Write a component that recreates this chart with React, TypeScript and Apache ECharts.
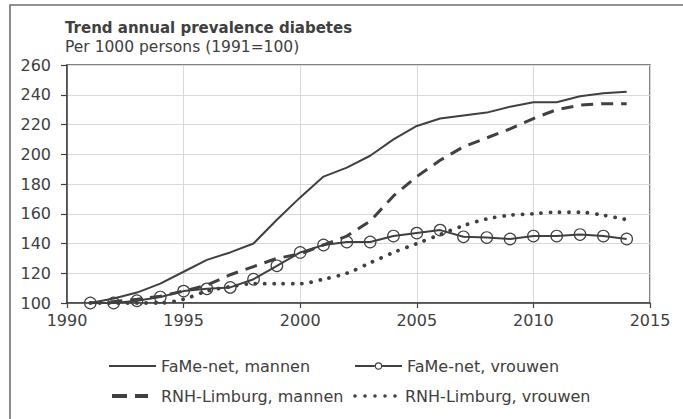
import React, { useEffect, useRef } from "react";
import * as echarts from "echarts";

const years = [1991, 1992, 1993, 1994, 1995, 1996, 1997, 1998, 1999, 2000, 2001, 2002, 2003, 2004, 2005, 2006, 2007, 2008, 2009, 2010, 2011, 2012, 2013, 2014];

const fameMannen = [100, 103, 107, 113, 121, 129, 134, 140, 156, 171, 185, 191, 199, 210, 219, 224, 226, 228, 232, 235, 235, 239, 241, 242];
const fameVrouwen = [100, 100, 101.5, 104, 108, 109.5, 110.5, 116, 125, 134, 139, 141, 141, 145, 147, 149, 144.5, 144, 143, 145, 145, 146, 145, 143];
const rnhMannen = [100, 101, 102.5, 104.5, 108, 112, 119, 124.5, 130, 133, 139, 145, 155, 172, 185, 196, 205, 211, 217, 224, 230, 233, 234, 234];
const rnhVrouwen = [100, 100, 100, 100, 102.5, 108, 111, 113, 113, 113, 116, 120, 127, 134, 140, 146, 152, 156.5, 159, 160, 161, 161, 159, 156];

const seriesNames = ["FaMe-net, mannen", "FaMe-net, vrouwen", "RNH-Limburg, mannen", "RNH-Limburg, vrouwen"];
const titleText = "Trend annual prevalence diabetes";
const subtitleText = "Per 1000 persons (1991=100)";

const xMin = 1990, xMax = 2015, xStep = 5;
const yMin = 100, yMax = 260, yStep = 20;

const INK = "#404040";
const FONT = "DejaVu Sans";

const corners = "M0,0L0.01,0L0,0.01Z M47,12L46.99,12L47,11.99Z ";
const circ = (cx: number, cy: number, r: number, sweep: number) =>
  `M${cx - r},${cy}A${r},${r} 0 1,${sweep} ${cx + r},${cy}A${r},${r} 0 1,${sweep} ${cx - r},${cy}Z `;

const iconSolid = "path://" + corners + "M0,5H47V7H0Z";
const iconCircle = "path://" + corners + "M0,5H20V7H0Z M27,5H47V7H27Z " + circ(23.5, 6, 3.7, 0) + circ(23.5, 6, 2.6, 1);
const iconDash = "path://" + corners + "M3,4H18V8H3Z M26,4H39V8H26Z";
const iconDot = "path://" + corners + circ(2, 6, 1.8, 0) + circ(12, 6, 1.8, 0) + circ(22, 6, 1.8, 0) + circ(32, 6, 1.8, 0) + circ(42, 6, 1.8, 0);

const pairs = (vals: number[]) => years.map((y, i) => [y, vals[i]]);

export default function App() {
  const ref = useRef<HTMLDivElement>(null);
  useEffect(() => {
    if (!ref.current) return;
    const chart = echarts.init(ref.current, null, { renderer: "svg" });
    const legendBase = {
      orient: "horizontal",
      padding: 0,
      itemWidth: 47,
      itemHeight: 12,
      itemGap: 0,
      selectedMode: false,
      symbolKeepAspect: false,
      itemStyle: { color: INK, borderWidth: 0 },
      textStyle: { fontFamily: FONT, fontSize: 16, color: INK, lineHeight: 16 },
    };
    chart.setOption({
      animation: false,
      backgroundColor: "#ffffff",
      title: [
        { text: titleText, left: 65, top: 20, padding: 0, textStyle: { fontFamily: FONT, fontSize: 15, fontWeight: "bold", color: INK } },
        { text: subtitleText, left: 65, top: 39, padding: 0, textStyle: { fontFamily: FONT, fontSize: 15.5, fontWeight: "normal", color: INK } },
      ],
      graphic: [
        { type: "rect", shape: { x: 10, y: 5, width: 720, height: 500 }, style: { fill: "none", stroke: "#6e6e6e", lineWidth: 1.6 }, silent: true },
      ],
      legend: [
        { ...legendBase, left: 109, top: 358, data: [{ name: seriesNames[0], icon: iconSolid }] },
        { ...legendBase, left: 355, top: 358, data: [{ name: seriesNames[1], icon: iconCircle }] },
        { ...legendBase, left: 109, top: 388, data: [{ name: seriesNames[2], icon: iconDash }] },
        { ...legendBase, left: 353, top: 388, data: [{ name: seriesNames[3], icon: iconDot }] },
      ],
      grid: { left: 67, top: 65, right: 33, bottom: 116, show: true, borderColor: "#595959", borderWidth: 1.5, backgroundColor: "transparent" },
      xAxis: {
        type: "value",
        min: xMin,
        max: xMax,
        interval: xStep,
        axisLine: { show: true, lineStyle: { color: INK, width: 1.5 } },
        axisTick: { show: true, inside: false, length: 5, lineStyle: { color: INK, width: 1.2 } },
        axisLabel: { fontFamily: FONT, fontSize: 16, color: INK, margin: 9, formatter: (v: number) => String(v) },
        splitLine: { show: true, lineStyle: { color: "#d9d9d9", width: 1 } },
      },
      yAxis: {
        type: "value",
        min: yMin,
        max: yMax,
        interval: yStep,
        axisLine: { show: true, lineStyle: { color: INK, width: 1.5 } },
        axisTick: { show: true, inside: false, length: 6, lineStyle: { color: INK, width: 1.2 } },
        axisLabel: { fontFamily: FONT, fontSize: 16, color: INK, margin: 16, formatter: (v: number) => String(v) },
        splitLine: { show: true, lineStyle: { color: "#d9d9d9", width: 1 } },
      },
      series: [
        {
          name: seriesNames[0], type: "line", data: pairs(fameMannen), symbol: "none",
          lineStyle: { color: INK, width: 2 }, itemStyle: { color: INK }, emphasis: { disabled: true }, z: 3,
        },
        {
          name: seriesNames[2], type: "line", data: pairs(rnhMannen), symbol: "none",
          lineStyle: { color: INK, width: 3, type: [12, 8] }, itemStyle: { color: INK }, emphasis: { disabled: true }, z: 2,
        },
        {
          name: seriesNames[3], type: "line", data: pairs(rnhVrouwen), symbol: "none", smooth: 0.3,
          lineStyle: { color: INK, width: 3.8, type: [0.1, 9.2], cap: "round" }, itemStyle: { color: INK }, emphasis: { disabled: true }, z: 2,
        },
        {
          name: seriesNames[1], type: "line", data: pairs(fameVrouwen), symbol: "circle", symbolSize: 11.5, showAllSymbol: true,
          lineStyle: { color: INK, width: 2 }, itemStyle: { color: "rgba(255,255,255,0)", borderColor: INK, borderWidth: 1.2 },
          emphasis: { disabled: true }, z: 4,
        },
      ],
    });
    return () => chart.dispose();
  }, []);
  return <div ref={ref} style={{ position: "fixed", left: 0, top: 0, width: 683, height: 419 }} />;
}
